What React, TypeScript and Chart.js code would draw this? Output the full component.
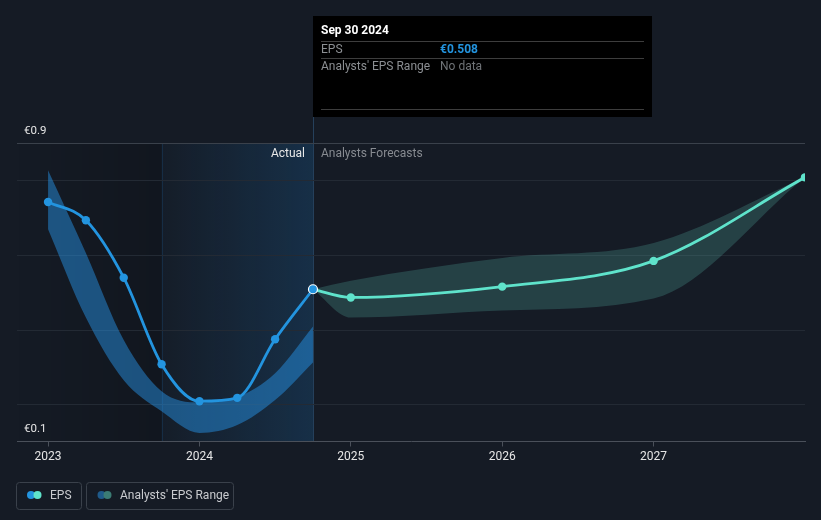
import React, { useEffect, useRef } from "react";
import { Chart, registerables } from "chart.js";

Chart.register(...registerables);

// ---------- data ----------
const xTickYears = [2023, 2024, 2025, 2026, 2027];
const xMin = 2022.795;
const xMax = 2028;

const epsDates = [2023.0, 2023.25, 2023.5, 2023.75, 2024.0, 2024.25, 2024.5, 2024.75];
const epsValues = [0.742, 0.693, 0.539, 0.307, 0.208, 0.217, 0.374, 0.508];
const pastRangeLow = [0.669, 0.432, 0.264, 0.181, 0.123, 0.144, 0.211, 0.312];
const pastRangeHigh = [0.827, 0.605, 0.372, 0.235, 0.205, 0.219, 0.283, 0.408];

const forecastDates = [2024.75, 2025, 2026, 2027, 2028];
const forecastValues = [0.508, 0.486, 0.515, 0.584, 0.808];
const forecastLow = [0.508, 0.432, 0.451, 0.483, 0.808];
const forecastHigh = [0.508, 0.531, 0.592, 0.632, 0.808];

const yMin = 0.1;
const yMax = 0.9;
const yGridValues = [0.2, 0.4, 0.6, 0.8, 0.9];
const yLabelValues = [0.9, 0.1];

const pastStart = 2023.75;
const nowDate = 2024.75;

const tooltipTitle = "Sep 30 2024";
const tooltipRows = [
  { label: "EPS", value: "€0.508", color: "#2394df", bold: true },
  { label: "Analysts' EPS Range", value: "No data", color: "#6f7377", bold: false },
];

// ---------- styles ----------
const BG = "#151b25";
const FONT = "Roboto, 'Noto Sans', Arial, sans-serif";
const BLUE = "#2394df";
const TEAL = "#5fe3cb";

const pts = (xs: number[], ys: number[]) => xs.map((x, i) => ({ x, y: ys[i] }));

const decorPlugin = {
  id: "decor",
  beforeDraw(chart: any) {
    const { ctx, chartArea: a, scales } = chart;
    const xs = scales.x;
    const x0 = xs.getPixelForValue(pastStart);
    const x1 = xs.getPixelForValue(nowDate);
    ctx.save();
    let g = ctx.createLinearGradient(a.left, 0, x0, 0);
    g.addColorStop(0, "rgba(0,0,0,0)");
    g.addColorStop(1, "rgba(0,0,0,0.16)");
    ctx.fillStyle = g;
    ctx.fillRect(a.left, a.top, x0 - a.left, a.bottom - a.top);
    g = ctx.createLinearGradient(x0, 0, x1, 0);
    g.addColorStop(0, "rgba(33,150,243,0.02)");
    g.addColorStop(1, "rgba(33,150,243,0.17)");
    ctx.fillStyle = g;
    ctx.fillRect(x0, a.top, x1 - x0, a.bottom - a.top);
    ctx.strokeStyle = "rgba(33,150,243,0.14)";
    ctx.lineWidth = 1;
    ctx.beginPath();
    ctx.moveTo(Math.round(x0) + 0.5, a.top);
    ctx.lineTo(Math.round(x0) + 0.5, a.bottom);
    ctx.stroke();
    ctx.strokeStyle = "#25405b";
    ctx.beginPath();
    ctx.moveTo(Math.round(x1) + 0.5, 117);
    ctx.lineTo(Math.round(x1) + 0.5, a.bottom);
    ctx.stroke();
    ctx.restore();
  },
  beforeDatasetsDraw(chart: any) {
    const { ctx, chartArea: a, scales } = chart;
    ctx.save();
    ctx.lineWidth = 1;
    yGridValues.forEach((v) => {
      const y = Math.round(scales.y.getPixelForValue(v)) + 0.5;
      ctx.strokeStyle = v === yMax ? "#3a414b" : "#232a34";
      ctx.beginPath();
      ctx.moveTo(a.left, y);
      ctx.lineTo(a.right, y);
      ctx.stroke();
    });
    ctx.restore();
  },
  afterDraw(chart: any) {
    const { ctx, chartArea: a, scales } = chart;
    const x1 = scales.x.getPixelForValue(nowDate);
    ctx.save();
    ctx.textBaseline = "middle";
    ctx.font = `11.5px ${FONT}`;
    ctx.fillStyle = "#e6e6e6";
    ctx.textAlign = "left";
    yLabelValues.forEach((v) => {
      const y = scales.y.getPixelForValue(v);
      ctx.fillText(`€${v}`, a.left + 7, y - 12);
    });
    ctx.font = `12px ${FONT}`;
    ctx.textAlign = "right";
    ctx.fillStyle = "#e8e8e8";
    ctx.fillText("Actual", x1 - 8, a.top + 11);
    ctx.textAlign = "left";
    ctx.fillStyle = "#878b91";
    ctx.fillText("Analysts Forecasts", x1 + 8, a.top + 11);

    const bx = Math.round(x1);
    const by = 16;
    const bw = 339;
    const bh = 101;
    ctx.fillStyle = "#000000";
    ctx.fillRect(bx, by, bw, bh);
    ctx.fillStyle = "#ffffff";
    ctx.font = `bold 12px ${FONT}`;
    ctx.fillText(tooltipTitle, bx + 8, 31);
    ctx.strokeStyle = "#3d3d3d";
    ctx.lineWidth = 1;
    [41, 58, 109].forEach((ly) => {
      ctx.beginPath();
      ctx.moveTo(bx + 8, ly + 0.5);
      ctx.lineTo(bx + bw - 8, ly + 0.5);
      ctx.stroke();
    });
    tooltipRows.forEach((r, i) => {
      const ry = 49.5 + i * 17;
      ctx.font = `12px ${FONT}`;
      ctx.fillStyle = "#8c8f93";
      ctx.fillText(r.label, bx + 8, ry);
      ctx.font = `${r.bold ? "bold " : ""}12px ${FONT}`;
      ctx.fillStyle = r.color;
      ctx.fillText(r.value, bx + 127, ry);
    });

    const drawBox = (x: number, w: number) => {
      ctx.strokeStyle = "#3a414b";
      ctx.lineWidth = 1;
      ctx.beginPath();
      (ctx as any).roundRect ? (ctx as any).roundRect(x + 0.5, 482.5, w, 27, 3) : ctx.rect(x + 0.5, 482.5, w, 27);
      ctx.stroke();
    };
    const dot = (x: number, c: string) => {
      ctx.fillStyle = c;
      ctx.beginPath();
      ctx.arc(x, 495, 4, 0, Math.PI * 2);
      ctx.fill();
    };
    drawBox(16, 65);
    dot(31, BLUE);
    dot(37.5, TEAL);
    drawBox(86, 147);
    dot(101.5, "#1f5a8a");
    dot(107.5, "#3b7b74");
    ctx.font = `12px ${FONT}`;
    ctx.fillStyle = "#c9cbcf";
    ctx.textAlign = "left";
    ctx.fillText("EPS", 50, 495.5);
    ctx.fillText("Analysts' EPS Range", 120, 495.5);
    ctx.restore();
  },
};

export default function App() {
  const ref = useRef<HTMLCanvasElement>(null);
  useEffect(() => {
    document.body.style.margin = "0";
    document.body.style.background = BG;
    const canvas = ref.current!;
    const lastIdx = epsValues.length - 1;
    const chart = new Chart(canvas, {
      type: "line",
      data: {
        datasets: [
          {
            label: "EPS",
            data: pts(epsDates, epsValues),
            borderColor: BLUE,
            backgroundColor: BLUE,
            borderWidth: 2.8,
            cubicInterpolationMode: "monotone",
            pointRadius: epsValues.map((_, i) => (i === lastIdx ? 4.5 : 4.2)),
            pointBackgroundColor: BLUE,
            pointBorderColor: epsValues.map((_, i) => (i === lastIdx ? "#ffffff" : BLUE)),
            pointBorderWidth: epsValues.map((_, i) => (i === lastIdx ? 1.2 : 0)),
            fill: false,
            order: 0,
          },
          {
            label: "Forecast",
            data: pts(forecastDates, forecastValues),
            borderColor: TEAL,
            backgroundColor: TEAL,
            borderWidth: 2.8,
            cubicInterpolationMode: "monotone",
            pointRadius: forecastValues.map((_, i) => (i === 0 ? 0 : 4.2)),
            pointBackgroundColor: TEAL,
            pointBorderWidth: 0,
            fill: false,
            order: 1,
          },
          {
            label: "pastLow",
            data: pts(epsDates, pastRangeLow),
            borderWidth: 0,
            pointRadius: 0,
            cubicInterpolationMode: "monotone",
            fill: false,
            order: 2,
          },
          {
            label: "pastHigh",
            data: pts(epsDates, pastRangeHigh),
            borderWidth: 0,
            pointRadius: 0,
            cubicInterpolationMode: "monotone",
            backgroundColor: "rgba(39,155,243,0.45)",
            fill: { target: 2 } as any,
            order: 3,
          },
          {
            label: "fcLow",
            data: pts(forecastDates, forecastLow),
            borderWidth: 0,
            pointRadius: 0,
            cubicInterpolationMode: "monotone",
            fill: false,
            order: 4,
          },
          {
            label: "fcHigh",
            data: pts(forecastDates, forecastHigh),
            borderWidth: 0,
            pointRadius: 0,
            cubicInterpolationMode: "monotone",
            backgroundColor: "rgba(95,200,185,0.22)",
            fill: { target: 4 } as any,
            order: 5,
          },
        ],
      },
      options: {
        animation: false,
        responsive: false,
        events: [],
        layout: { padding: { left: 17, right: 16, top: 143, bottom: 0 } },
        plugins: { legend: { display: false }, tooltip: { enabled: false } },
        scales: {
          x: {
            type: "linear",
            min: xMin,
            max: xMax,
            afterBuildTicks: (s: any) => {
              s.ticks = xTickYears.map((v) => ({ value: v }));
            },
            afterFit: (s: any) => {
              s.height = 78.5;
            },
            grid: { drawOnChartArea: false, drawTicks: true, tickLength: 5, color: "#4a505a" },
            border: { display: true, color: "#4a505a", width: 1 },
            ticks: {
              color: "#e6e6e6",
              font: { family: FONT, size: 12 },
              padding: 3,
              maxRotation: 0,
              callback: (v: any) => String(v),
            },
          },
          y: {
            display: false,
            min: yMin,
            max: yMax,
          },
        },
      },
      plugins: [decorPlugin],
    } as any);
    return () => chart.destroy();
  }, []);
  return (
    <div style={{ position: "absolute", left: 0, top: 0, width: 821, height: 520, background: BG }}>
      <canvas ref={ref} width={821} height={520} style={{ display: "block", width: 821, height: 520 }} />
    </div>
  );
}
